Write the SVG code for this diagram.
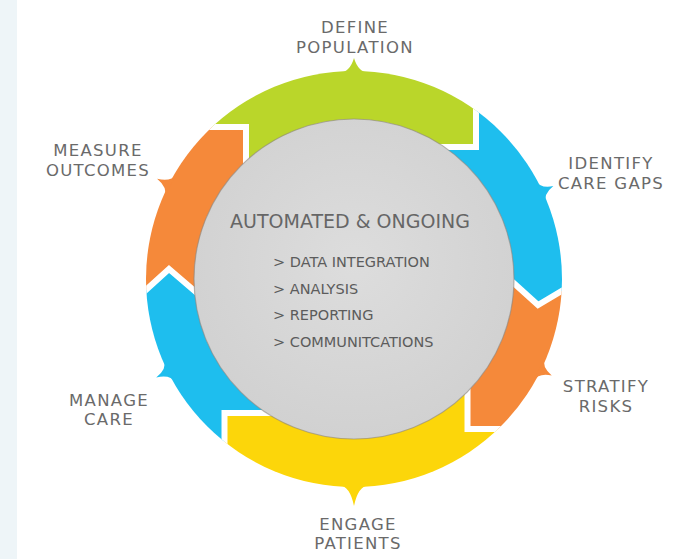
<svg xmlns="http://www.w3.org/2000/svg" width="686" height="559" viewBox="0 0 686 559">
  <defs>
    <clipPath id="disk">
      <circle cx="354" cy="279" r="208"/>
    </clipPath>
    <radialGradient id="hubFill" cx="50%" cy="45%" r="55%">
      <stop offset="0" stop-color="#dddddd"/>
      <stop offset="1" stop-color="#d1d1d1"/>
    </radialGradient>
  </defs>
  <style>
    .green { fill: #bad62a; }
    .blue { fill: #1ebeee; }
    .orange { fill: #f5893a; }
    .yellow { fill: #fcd60a; }
    .label { font-family: "DejaVu Sans", "Liberation Sans", sans-serif; font-size: 16.5px; letter-spacing: 1.3px; fill: #6a6a6a; text-anchor: middle; }
    .title { font-family: "DejaVu Sans", "Liberation Sans", sans-serif; font-size: 19px; fill: #666666; text-anchor: middle; }
    .item { font-family: "DejaVu Sans", "Liberation Sans", sans-serif; font-size: 14.5px; fill: #5c5c5c; }
    .joint { fill: none; stroke: #ffffff; stroke-width: 6; stroke-linejoin: miter; }
  </style>

  <!-- pale strip along the left edge -->
  <rect x="0" y="0" width="17" height="559" fill="#eef5f8"/>

  <!-- cycle steps: ring segment, outward barb and caption -->
  <g id="define-population">
    <polygon class="green" clip-path="url(#disk)" points="354,279 246,168 246,127 170,127 204,19 354,-21 457,-3 476,40 476,147 436,147"/>
    <path class="green" transform="translate(354 279) rotate(0)" d="M-15,-206 Q-4,-207 0,-221 Q4,-207 15,-206 Z"/>
    <text class="label" x="355" y="33">DEFINE</text>
    <text class="label" x="355" y="52.5">POPULATION</text>
  </g>

  <g id="identify-care-gaps">
    <polygon class="blue" clip-path="url(#disk)" points="354,279 436,147 476,147 476,40 584,86 644,201 600,268 560,292 538,305 517,286 496,267"/>
    <path class="blue" transform="translate(354 279) rotate(65)" d="M-13,-206 Q-3,-207 0,-220 Q3,-207 13,-206 Z"/>
    <text class="label" x="611" y="169">IDENTIFY</text>
    <text class="label" x="611" y="188.5">CARE GAPS</text>
  </g>

  <g id="stratify-risks">
    <polygon class="orange" clip-path="url(#disk)" points="354,279 496,267 517,286 538,305 560,292 600,268 636,382 566,491 540,429 467.5,429 467.5,385"/>
    <path class="orange" transform="translate(354 279) rotate(116)" d="M-13,-206 Q-3,-207 0,-220 Q3,-207 13,-206 Z"/>
    <text class="label" x="606" y="392">STRATIFY</text>
    <text class="label" x="606" y="411.5">RISKS</text>
  </g>

  <g id="engage-patients">
    <polygon class="yellow" clip-path="url(#disk)" points="354,279 467.5,385 467.5,429 540,429 481,551 354,579 227,551 224.5,480 224.5,413 272,413"/>
    <path class="yellow" transform="translate(354 279) rotate(180)" d="M-15,-206 Q-4,-207 0,-227 Q4,-207 15,-206 Z"/>
    <text class="label" x="358" y="529.5">ENGAGE</text>
    <text class="label" x="358" y="549">PATIENTS</text>
  </g>

  <g id="manage-care">
    <polygon class="blue" clip-path="url(#disk)" points="354,279 272,413 224.5,413 224.5,480 108,451 64,357 115,318 145,291 169,269 190,287 211,305"/>
    <path class="blue" transform="translate(354 279) rotate(243.5)" d="M-13,-206 Q-3,-207 0,-221 Q3,-207 13,-206 Z"/>
    <text class="label" x="109" y="405.5">MANAGE</text>
    <text class="label" x="109" y="425">CARE</text>
  </g>

  <g id="measure-outcomes">
    <polygon class="orange" clip-path="url(#disk)" points="354,279 211,305 190,287 169,269 145,291 115,318 64,201 108,107 170,127 246,127 246,168"/>
    <path class="orange" transform="translate(354 279) rotate(297)" d="M-13,-206 Q-3,-207 0,-221 Q3,-207 13,-206 Z"/>
    <text class="label" x="98" y="156">MEASURE</text>
    <text class="label" x="98" y="175.5">OUTCOMES</text>
  </g>

  <!-- white seams where one step hands over to the next -->
  <g id="connectors" clip-path="url(#disk)">
    <path class="joint" d="M436,147 L476,147 L476,40"/>
    <path class="joint" d="M496,267 L538,305 L600,268"/>
    <path class="joint" d="M467.5,385 L467.5,429 L540,429"/>
    <path class="joint" d="M272,413 L224.5,413 L224.5,480"/>
    <path class="joint" d="M211,305 L169,269 L115,318"/>
    <path class="joint" d="M246,168 L246,127 L170,127"/>
  </g>

  <!-- central hub -->
  <g id="hub">
    <circle cx="354" cy="279" r="160" fill="url(#hubFill)" stroke="#8c867e" stroke-opacity="0.6" stroke-width="1.2"/>
    <text class="title" x="350" y="228">AUTOMATED &amp; ONGOING</text>
    <text class="item" x="273" y="267">&gt; DATA INTEGRATION</text>
    <text class="item" x="273" y="294">&gt; ANALYSIS</text>
    <text class="item" x="273" y="320">&gt; REPORTING</text>
    <text class="item" x="273" y="347">&gt; COMMUNITCATIONS</text>
  </g>
</svg>
